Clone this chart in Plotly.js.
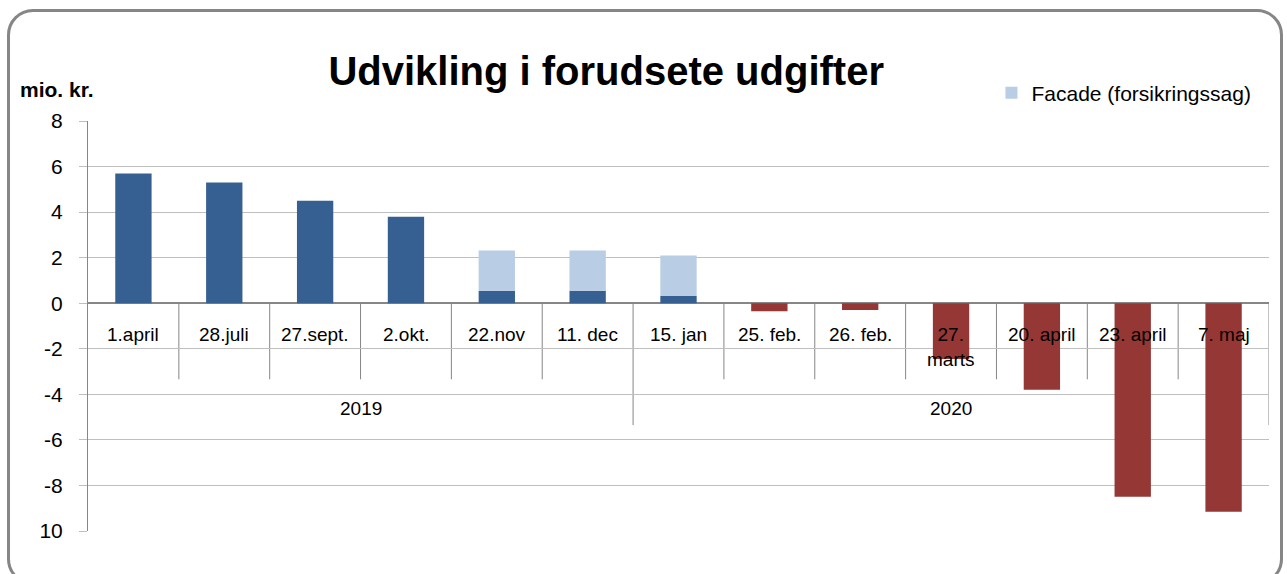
<!DOCTYPE html>
<html>
<head>
<meta charset="utf-8">
<script src="https://cdn.plot.ly/plotly-3.0.1.min.js"></script>
<style>
  html, body { margin: 0; padding: 0; background: #ffffff; overflow: hidden; }
  #wrap { position: relative; width: 1287px; height: 574px; }
  #chart { position: absolute; left: 0; top: 0; width: 1287px; height: 574px; }
  #frame { position: absolute; left: 7px; top: 9px; width: 1270px; height: 570px;
           border: 3px solid #868686; border-radius: 26px; pointer-events: none; }
</style>
</head>
<body>
<div id="wrap">
  <div id="chart"></div>
  <div id="frame"></div>
</div>
<script>
// ---- data ----
const categories = ['1.april', '28.juli', '27.sept.', '2.okt.', '22.nov', '11. dec', '15. jan',
                    '25. feb.', '26. feb.', '27.<br>marts', '20. april', '23. april', '7. maj'];
const yearLabels = ['2019', '2020'];
const yearCounts = [6, 7];
const baseValues   = [5.7, 5.3, 4.5, 3.8, 0.55, 0.55, 0.32, null, null, null, null, null, null];
const facadeValues = [null, null, null, null, 1.77, 1.77, 1.77, null, null, null, null, null, null];
const negValues    = [null, null, null, null, null, null, null, -0.35, -0.3, -2.45, -3.8, -8.5, -9.15];
const yTickVals = [8, 6, 4, 2, 0, -2, -4, -6, -8, -10];
const yTickText = ['8', '6', '4', '2', '0', '-2', '-4', '-6', '-8', '10'];

const FONT = 'Liberation Sans, Arial, sans-serif';
const GRID = '#bfbfbf';
const AXIS = '#868686';

const traces = [
  { type: 'bar', x: categories, y: baseValues, name: 'Udgifter', showlegend: false,
    marker: { color: '#376092' }, hoverinfo: 'x+y' },
  { type: 'bar', x: categories, y: facadeValues, name: 'Facade (forsikringssag)', showlegend: true,
    marker: { color: '#B9CDE5' }, hoverinfo: 'x+y' },
  { type: 'bar', x: categories, y: negValues, name: 'Besparelser', showlegend: false,
    marker: { color: '#953735' }, hoverinfo: 'x+y' }
];

// category label row & separators below the zero line
const labelY = -0.82;
const sepShortEnd = -3.34;
const sepLongEnd = -5.35;
const annotations = categories.map(c => ({
  x: c, y: labelY, xref: 'x', yref: 'y', text: c, showarrow: false,
  xanchor: 'center', yanchor: 'top', font: { family: FONT, size: 19, color: '#000' }
}));
const shapes = [];
let start = 0;
const yearBounds = [];
yearCounts.forEach((n, gi) => {
  const center = start + (n - 1) / 2;
  annotations.push({ x: center, y: -4.6, xref: 'x', yref: 'y', text: yearLabels[gi], showarrow: false,
    xanchor: 'center', yanchor: 'middle', font: { family: FONT, size: 19, color: '#000' } });
  start += n;
  yearBounds.push(start - 0.5);
});
for (let i = 0; i < categories.length; i++) {
  const b = i + 0.5;
  const isYear = yearBounds.indexOf(b) >= 0;
  shapes.push({ type: 'line', xref: 'x', yref: 'y', x0: b, x1: b, y0: 0,
    y1: isYear ? sepLongEnd : sepShortEnd, line: { color: AXIS, width: 1 }, layer: 'below' });
}
// unit label, top-left
annotations.push({ x: (18 - 88) / 1181, y: (531 - 90) / 410, xref: 'paper', yref: 'paper',
  text: '<b>mio. kr.</b>', showarrow: false, xanchor: 'left', yanchor: 'middle',
  font: { family: FONT, size: 21, color: '#000' } });

const layout = {
  width: 1287, height: 574,
  margin: { l: 88, r: 18, t: 121, b: 43 },
  paper_bgcolor: '#ffffff', plot_bgcolor: '#ffffff',
  font: { family: FONT, color: '#000' },
  title: { text: '<b>Udvikling i forudsete udgifter</b>', x: 0.471, y: 0.877,
           xanchor: 'center', yanchor: 'middle', font: { family: FONT, size: 40, color: '#000' } },
  barmode: 'relative', bargap: 0.6,
  xaxis: { type: 'category', range: [-0.5, categories.length - 0.5], showticklabels: false,
           showgrid: false, zeroline: false, showline: false, ticks: '', fixedrange: true },
  yaxis: { range: [-10, 8], tickvals: yTickVals, ticktext: yTickText, showgrid: true,
           gridcolor: GRID, gridwidth: 1, zeroline: true, zerolinecolor: AXIS, zerolinewidth: 2,
           showline: true, linecolor: AXIS, linewidth: 1, ticks: 'outside', ticklen: 8,
           tickcolor: GRID, ticklabelstandoff: 12,
           tickfont: { family: FONT, size: 21, color: '#000' }, fixedrange: true },
  legend: { x: 0.765, y: 1.068, xanchor: 'left', yanchor: 'middle', bgcolor: 'rgba(0,0,0,0)',
            itemwidth: 30, font: { family: FONT, size: 21, color: '#000' } },
  shapes: shapes,
  annotations: annotations
};

Plotly.newPlot('chart', traces, layout, { displayModeBar: false, staticPlot: true });
</script>
</body>
</html>
